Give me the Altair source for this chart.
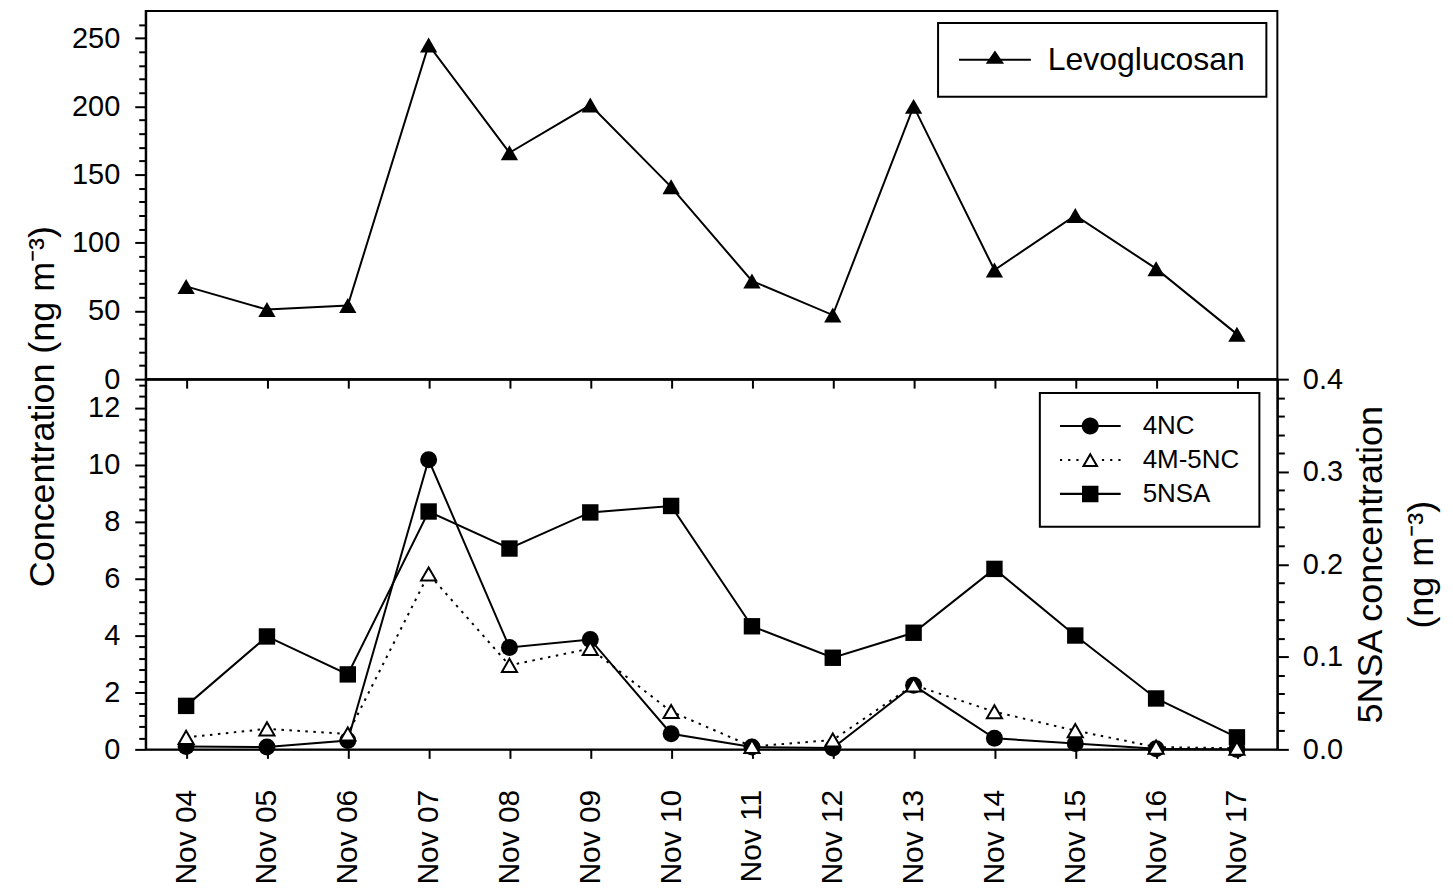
import altair as alt
import pandas as pd

# ---------------- data ----------------
dates = ["Nov 04", "Nov 05", "Nov 06", "Nov 07", "Nov 08", "Nov 09", "Nov 10",
         "Nov 11", "Nov 12", "Nov 13", "Nov 14", "Nov 15", "Nov 16", "Nov 17"]
levoglucosan = [68, 51, 54, 245, 166, 201, 141, 72, 47, 200, 80, 120, 81, 33]
nc4 = [0.10, 0.08, 0.31, 10.17, 3.58, 3.86, 0.55, 0.08, 0.05, 2.25, 0.39, 0.21, 0.02, 0.0]
m5nc = [0.42, 0.72, 0.54, 6.16, 2.95, 3.54, 1.33, 0.10, 0.33, 2.26, 1.32, 0.66, 0.08, 0.04]
nsa5 = [0.047, 0.122, 0.081, 0.257, 0.217, 0.256, 0.263, 0.133, 0.099, 0.126, 0.195,
        0.123, 0.055, 0.013]

top_series = ["Levoglucosan"]
bot_series = ["4NC", "4M-5NC", "5NSA"]

top_df = pd.DataFrame({"date": dates, "value": levoglucosan})
bot_df = pd.DataFrame({"date": dates, "nc4": nc4, "m5nc": m5nc, "nsa5": nsa5})

FONT = "Liberation Sans"
W, H_TOP, H_BOT = 1134, 369, 371

# ---------------- legend symbols (line + marker as one path) ----------------
TOP_SYM = "M-1,-0.028H1V0.028H-1Z M0,-0.26L0.255,0.11L-0.255,0.11Z"
LINE_B = "M-1,-0.034H1V0.034H-1Z"
SYM_4NC = LINE_B + " M-0.28,0A0.28,0.28,0,1,1,0.28,0A0.28,0.28,0,1,1,-0.28,0Z"
dots = " ".join(f"M{x - 0.036:.3f},-0.036h0.072v0.072h-0.072Z"
                for x in [-0.96, -0.69, -0.42, 0.42, 0.69, 0.96])
SYM_4M = dots + " M0,-0.25L0.28,0.23L-0.28,0.23Z M0,-0.119L-0.165,0.164L0.165,0.164Z"
SYM_5NSA = LINE_B + " M-0.27,-0.27H0.27V0.27H-0.27Z"

# ---------------- x encodings ----------------
xscale = alt.Scale(type="point", domain=dates, padding=0.5)
x_top = alt.X("date:N", title=None, scale=xscale,
              axis=alt.Axis(orient="bottom", labels=False, tickSize=9, tickWidth=2,
                            domainWidth=2, grid=False))
x_bot = alt.X("date:N", title=None, scale=xscale,
              axis=alt.Axis(orient="bottom", labelAngle=270, labelAlign="right",
                            labelBaseline="middle", labelFontSize=30, labelPadding=31,
                            tickSize=9, tickWidth=2, domainWidth=2, grid=False))

# ---------------- top panel ----------------
top_dom = alt.Scale(domain=[0, 270], nice=False, zero=True)
top_major = alt.Axis(orient="left", values=[0, 50, 100, 150, 200, 250], tickSize=11,
                     tickWidth=2, labelFontSize=29, labelPadding=15, domainWidth=2,
                     grid=False, title="Concentration (ng m\u207b\u00b3)", titleFontSize=36,
                     titleFontWeight="normal", titleAngle=270, titleAlign="center",
                     titleBaseline="alphabetic", titleX=-92, titleY=396)
top_minor = alt.Axis(orient="left", values=[v for v in range(10, 270, 10) if v % 50],
                     tickSize=7, tickWidth=2, labels=False, domain=False, grid=False,
                     title=None)

tb = alt.Chart(top_df)
top_line = tb.mark_line(color="black", strokeWidth=2).encode(
    x=x_top, y=alt.Y("value:Q", scale=top_dom, axis=top_major))
top_pts = tb.mark_point(shape="triangle-up", filled=True, size=300, color="black",
                        opacity=1).encode(
    x=x_top, y=alt.Y("value:Q", scale=top_dom, axis=top_minor))
top_leg = tb.transform_calculate(series="'Levoglucosan'").transform_filter("false").mark_point(
    filled=True, color="black", opacity=1, strokeWidth=0).encode(
    shape=alt.Shape("series:N", scale=alt.Scale(domain=top_series, range=[TOP_SYM]),
                    legend=alt.Legend(orient="none", legendX=794, legendY=12, title=None,
                                      strokeColor="black", fillColor="white", padding=21,
                                      symbolSize=5184, clipHeight=32, symbolStrokeWidth=0,
                                      symbolFillColor="black", labelFontSize=32,
                                      labelOffset=17, labelLimit=500, labelFont=FONT,
                                      labelColor="black")))

top = alt.layer(top_line, top_pts, top_leg).resolve_scale(y="independent").resolve_axis(
    y="independent").properties(width=W, height=H_TOP)

# ---------------- bottom panel ----------------
left_dom = alt.Scale(domain=[0, 13], nice=False, zero=True)
right_dom = alt.Scale(domain=[0, 0.4], nice=False, zero=True)
left_major = alt.Axis(orient="left", values=list(range(0, 13, 2)), tickSize=11, tickWidth=2,
                      labelFontSize=29, labelPadding=15, domainWidth=2, grid=False, title=None)
left_minor = alt.Axis(orient="left",
                      values=[round(i * 0.4, 1) for i in range(1, 33) if i % 5],
                      tickSize=7, tickWidth=2, labels=False, domain=False, grid=False,
                      title=None)
right_major = alt.Axis(orient="right", values=[0, 0.1, 0.2, 0.3, 0.4], format=".1f",
                       tickSize=11, tickWidth=2, labelFontSize=29, labelPadding=14,
                       domainWidth=2, grid=False,
                       title=["5NSA concentration", "(ng m\u207b\u00b3)"], titleFontSize=36,
                       titleFontWeight="normal", titleAngle=270, titleAlign="center",
                       titleBaseline="alphabetic", titleX=104, titleY=185.5,
                       titleLineHeight=51)
right_minor = alt.Axis(orient="right",
                       values=[round(i * 0.02, 2) for i in range(1, 20) if i % 5],
                       tickSize=7, tickWidth=2, labels=False, domain=False, grid=False,
                       title=None)

bb = alt.Chart(bot_df)
nsa_line = bb.mark_line(color="black", strokeWidth=2).encode(
    x=x_bot, y=alt.Y("nsa5:Q", scale=right_dom, axis=right_major))
nc_line = bb.mark_line(color="black", strokeWidth=2).encode(
    x=x_bot, y=alt.Y("nc4:Q", scale=left_dom, axis=left_major))
m_line = bb.mark_line(color="black", strokeWidth=2, strokeDash=[2.5, 5.5]).encode(
    x=x_bot, y=alt.Y("m5nc:Q", scale=left_dom, axis=left_minor))
nsa_pts = bb.mark_point(shape="square", filled=True, size=270, color="black",
                        opacity=1).encode(
    x=x_bot, y=alt.Y("nsa5:Q", scale=right_dom, axis=right_minor))
nc_pts = bb.mark_point(shape="circle", filled=True, size=290, color="black",
                       opacity=1).encode(
    x=x_bot, y=alt.Y("nc4:Q", scale=left_dom, axis=None))
m_pts = bb.mark_point(shape="triangle-up", filled=True, fill="white", stroke="black",
                      strokeWidth=2, size=230, opacity=1).encode(
    x=x_bot, y=alt.Y("m5nc:Q", scale=left_dom, axis=None))
bot_leg = bb.transform_calculate(series="'4NC'").transform_filter("false").mark_point(
    filled=True, color="black", opacity=1, strokeWidth=0).encode(
    shape=alt.Shape("series:N",
                    scale=alt.Scale(domain=bot_series, range=[SYM_4NC, SYM_4M, SYM_5NSA]),
                    legend=alt.Legend(orient="none", legendX=896, legendY=14, title=None,
                                      strokeColor="black", fillColor="white", padding=20,
                                      symbolSize=3721, clipHeight=26, rowPadding=8,
                                      symbolStrokeWidth=0, symbolFillColor="black",
                                      labelFontSize=26, labelOffset=22, labelLimit=400,
                                      labelFont=FONT, labelColor="black")))

bot = alt.layer(nsa_line, nc_line, m_line, nsa_pts, nc_pts, m_pts, bot_leg).resolve_scale(
    y="independent").resolve_axis(y="independent").properties(width=W, height=H_BOT)

base = alt.vconcat(top, bot, spacing=0, bounds="flush").resolve_scale(
    shape="independent").resolve_legend(shape="independent").properties(
    padding={"left": 16, "top": 1, "right": 5, "bottom": 5}
).configure_view(stroke="black", strokeWidth=2).configure_axis(
    labelFont=FONT, titleFont=FONT, labelColor="black", titleColor="black",
    tickColor="black", domainColor="black"
)

try:
    chart = base.configure_legend(labelFont=FONT, strokeWidth=2)
    chart.to_dict()
except Exception:
    chart = base.configure_legend(labelFont=FONT)

chart.save("out.html", embed_options={"renderer": "svg", "actions": False})
